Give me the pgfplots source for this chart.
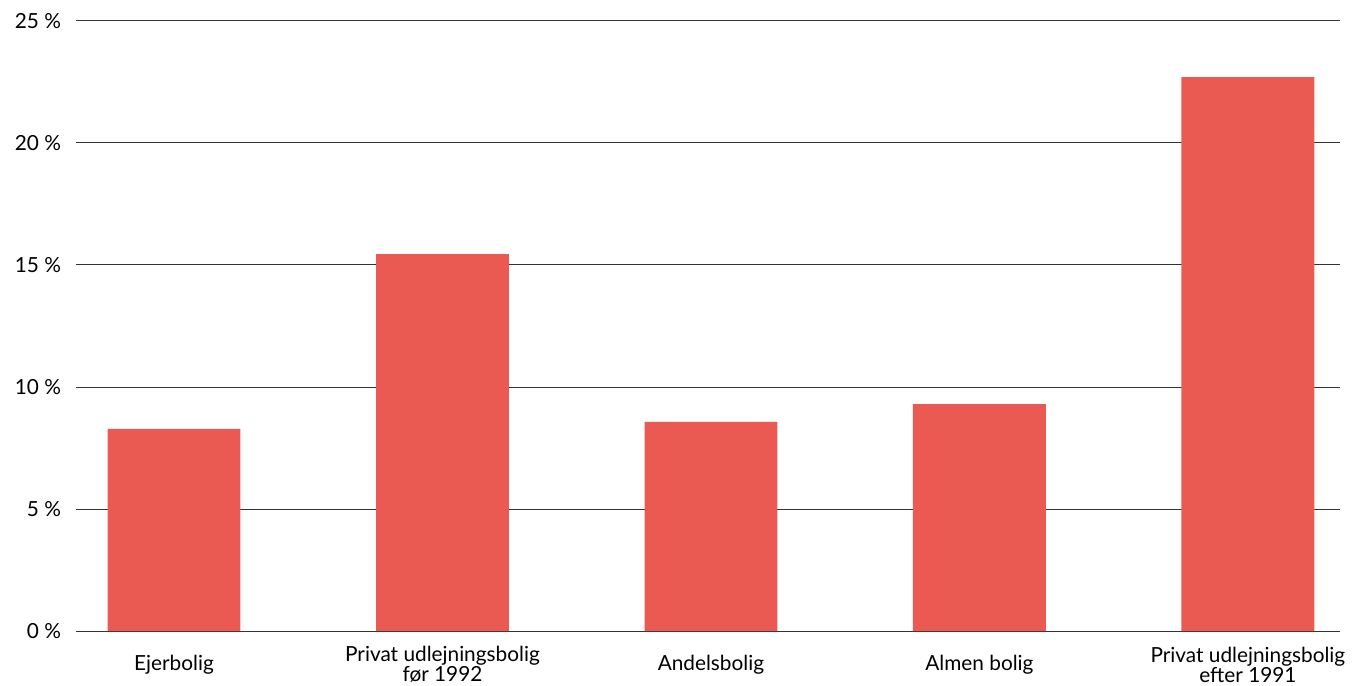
\documentclass[border=0pt]{standalone}
\usepackage{pgfplots}
\pgfplotsset{compat=1.18}
\usepackage{fontspec}
\setmainfont{Lato}
\definecolor{barred}{HTML}{EA5A52}
\definecolor{gridc}{HTML}{333333}
\begin{document}
\begin{tikzpicture}
\begin{axis}[
  at={(0,0)}, anchor=south west,
  scale only axis,
  width=632pt, height=305pt,
  xmin=-0.365, xmax=4.343,
  ymin=0, ymax=25,
  axis line style={draw=none},
  tick style={draw=none},
  ytick={0,5,10,15,20,25},
  yticklabels={0 \%,5 \%,10 \%,15 \%,20 \%,25 \%},
  yticklabel style={font=\fontsize{10.4}{10}\selectfont, xshift=-4pt},
  ymajorgrids,
  major grid style={draw=gridc, line width=0.5pt},
  xtick={0,1,2,3,4},
  xticklabels={Ejerbolig,Privat udlejningsbolig\\før 1992,Andelsbolig,Almen bolig,Privat udlejningsbolig\\efter 1991},
  xticklabel style={font=\fontsize{10.4}{10}\selectfont, align=center, anchor=center, inner sep=0pt, yshift=-16.8pt},
  clip=false,
]
\addplot[ybar, bar width=0.495, fill=barred, draw=none] coordinates {
  (0,8.28) (1,15.45) (2,8.57) (3,9.30) (4,22.70)
};
\end{axis}
\pgfresetboundingbox
\path[use as bounding box] (-38pt,-27pt) rectangle (638.5pt,315.5pt);
\end{tikzpicture}
\end{document}
